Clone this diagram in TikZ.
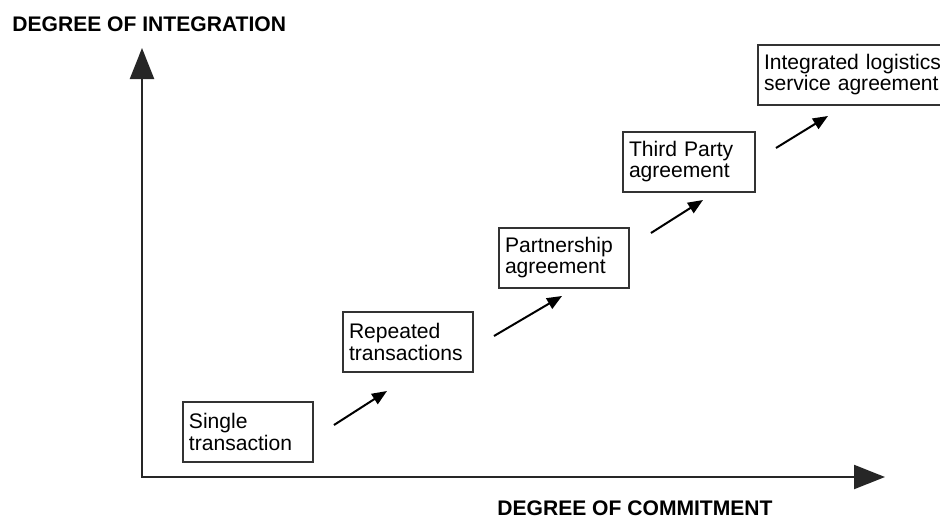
\documentclass[tikz,border=0pt]{standalone}
\usepackage{fontspec}
\setmainfont{Liberation Sans}
\usetikzlibrary{arrows.meta}

\begin{document}
\begin{tikzpicture}[x = 0.02cm, y = -0.02cm,
        stagebox/.style = {draw=black!80, line width=0.04cm, anchor=north west, align=left,
            text width=2.36cm, minimum height=1.2cm, inner xsep=0.12cm, inner ysep=0.1cm,
            font=\fontsize{12}{12}\selectfont},
        stagearrow/.style = {line width=0.04cm, -{Triangle[length=0.3cm, width=0.24cm]}},
        axis/.style = {black!85, line width=0.045cm,
            {Triangle[length=0.62cm, width=0.48cm]}-{Triangle[length=0.62cm, width=0.48cm]}},
        axislabel/.style = {anchor=base west, inner sep=0, font=\fontsize{12}{12}\selectfont\bfseries}]

            \useasboundingbox (0,0) rectangle (940,522);

            % axes
            \coordinate (origin) at (142,477);
            \coordinate (ytip) at (142,48);
            \coordinate (xtip) at (885,477);
            \draw[axis] (ytip) -- (origin) -- (xtip);

            \node[axislabel] (ylabel) at (12,31) {DEGREE OF INTEGRATION};
            \node[axislabel] (xlabel) at (497,515) {DEGREE OF COMMITMENT};

            % stages
            \node[stagebox] (single) at (182,401) {Single\\transaction};
            \node[stagebox] (repeated) at (342,311) {Repeated\\transactions};
            \node[stagebox] (partnership) at (498,227) {Partnership\\agreement};
            \node[stagebox, text width=2.4cm] (thirdparty) at (622,131) {Third Party\\agreement};
            \node[stagebox, text width=4cm] (integrated) at (757,44) {Integrated logistics\\service agreement};

            \draw[stagearrow] ([shift={(20,24)}]single.north east) -- ([shift={(45,18)}]repeated.south west);
            \draw[stagearrow] ([shift={(20,25)}]repeated.north east) -- ([shift={(64,7)}]partnership.south west);
            \draw[stagearrow] ([shift={(21,6)}]partnership.north east) -- ([shift={(81,7)}]thirdparty.south west);
            \draw[stagearrow] ([shift={(20,17)}]thirdparty.north east) -- ([shift={(71,10)}]integrated.south west);
        \end{tikzpicture}
\end{document}
